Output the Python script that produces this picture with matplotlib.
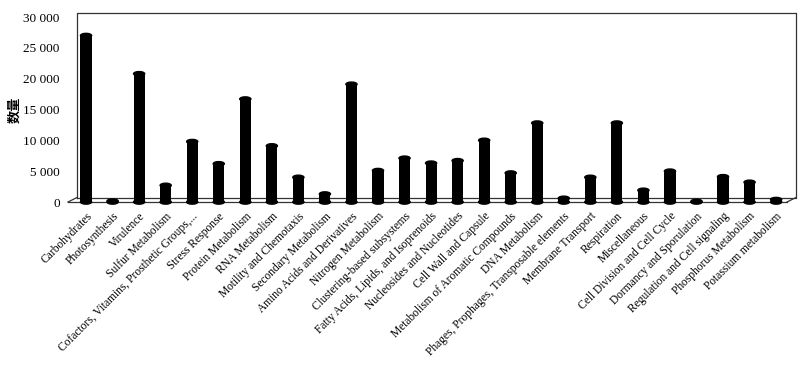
import numpy as np
import matplotlib
matplotlib.use("Agg")
import matplotlib.pyplot as plt
import matplotlib.transforms as mtransforms
from matplotlib.patches import Ellipse
from matplotlib.ticker import FuncFormatter

categories = ["Carbohydrates", "Photosynthesis", "Virulence", "Sulfur Metabolism",
              "Cofactors, Vitamins, Prosthetic Groups,...", "Stress Response",
              "Protein Metabolism", "RNA Metabolism", "Motility and Chemotaxis",
              "Secondary Metabolism", "Amino Acids and Derivatives", "Nitrogen Metabolism",
              "Clustering-based subsystems", "Fatty Acids, Lipids, and Isoprenoids",
              "Nucleosides and Nucleotides", "Cell Wall and Capsule",
              "Metabolism of Aromatic Compounds", "DNA Metabolism",
              "Phages, Prophages, Transposable elements", "Membrane Transport",
              "Respiration", "Miscellaneous", "Cell Division and Cell Cycle",
              "Dormancy and Sporulation", "Regulation and Cell signaling",
              "Phosphorus Metabolism", "Potassium metabolism"]
counts = [27000, 150, 20800, 2700, 9800, 6200, 16700, 9100, 4000, 1300, 19100, 5100,
          7100, 6300, 6700, 10000, 4700, 12800, 600, 4000, 12800, 1900, 5000, 100,
          4100, 3200, 400]
yticks = [0, 5000, 10000, 15000, 20000, 25000, 30000]

serif = "Liberation Serif"
fig = plt.figure(figsize=(8, 3.71), dpi=100)
ax = fig.add_axes([68 / 800, 1 - 202 / 371, (787 - 68) / 800, 185 / 371])

x = np.arange(len(categories))
w = 0.42
ax.bar(x, counts, width=w, color="black", zorder=3)
cap_h = 700
for xi, v in zip(x, counts):
    ax.add_patch(Ellipse((xi, v), w, cap_h, color="black", zorder=4))
    ax.add_patch(Ellipse((xi, 0), w, cap_h, color="black", zorder=4, clip_on=False))

ax.set_xlim(-0.68, len(categories) - 0.59)
ax.set_ylim(0, 30000)
ax.set_yticks(yticks)
ax.yaxis.set_major_formatter(FuncFormatter(lambda v, p: f"{int(v):,}".replace(",", " ")))
ax.set_xticks(x)
ax.set_xticklabels(categories, rotation=45, ha="right", rotation_mode="anchor",
                   fontfamily=serif, fontsize=8.3)
ax.tick_params(axis="both", length=0)
ax.tick_params(axis="x", pad=6)
ax.tick_params(axis="y", pad=6, labelsize=9.5)
for t in ax.get_yticklabels():
    t.set_fontfamily(serif)
for s in ax.spines.values():
    s.set_visible(False)

ax.set_ylabel("数量", fontfamily=["Noto Sans CJK SC", "DejaVu Sans"], fontsize=9.5,
              fontweight="bold", labelpad=1)

# pseudo-3D frame: back wall shifted up/right, floor in front
back = ax.transAxes + mtransforms.ScaledTranslation(9 / 100, 4.5 / 100, fig.dpi_scale_trans)
lc = "#333333"
ax.plot([0, 0, 1, 1, 0], [0, 1, 1, 0, 0], transform=back, color=lc, lw=0.9, clip_on=False, zorder=2)
ax.plot([0, 1], [0, 0], transform=ax.transAxes, color=lc, lw=0.9, clip_on=False, zorder=2)
for xe in (0, 1):
    p0 = ax.transAxes.transform((xe, 0))
    p1 = back.transform((xe, 0))
    ax.plot([p0[0], p1[0]], [p0[1], p1[1]], transform=None, color=lc, lw=0.9,
            clip_on=False, zorder=2)

fig.savefig("out.png", dpi=100)
